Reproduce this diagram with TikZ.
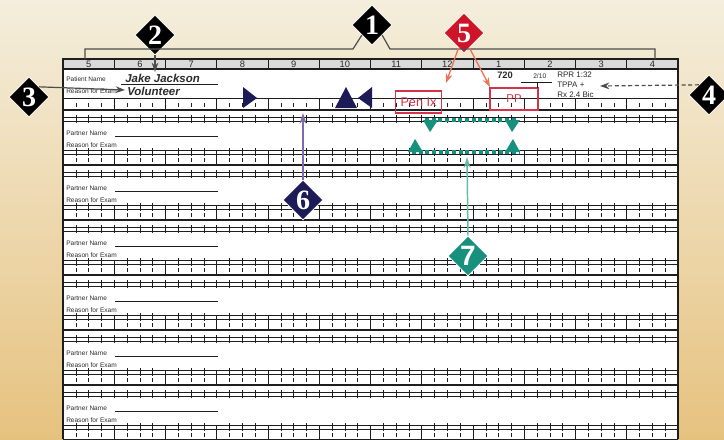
\documentclass[tikz,border=0pt]{standalone}
\usepackage{fontspec}
\setmainfont{Liberation Sans}
\newfontfamily\calloutfont{Liberation Serif}
\usetikzlibrary{arrows.meta,shapes.geometric,calc}
\definecolor{ink}{HTML}{2B2B2B}
\definecolor{rule}{HTML}{1E1E1E}
\definecolor{headgray}{HTML}{DADADA}
\definecolor{creamtop}{HTML}{F4EEDC}
\definecolor{creammid}{HTML}{EFDDB4}
\definecolor{creambot}{HTML}{E6C27F}
\definecolor{navy}{HTML}{1D1B57}
\definecolor{penred}{HTML}{D2334A}
\definecolor{calred}{HTML}{CE1429}
\definecolor{salmon}{HTML}{EB7458}
\definecolor{teal}{HTML}{17907E}
\definecolor{lteal}{HTML}{66BBA6}
\definecolor{violet}{HTML}{8268AE}
\definecolor{pointer}{HTML}{4D4D4D}
\tikzset{
  callout/.style={
    diamond, aspect=1, inner sep=0pt,
    minimum width=30pt, minimum height=30pt,
    draw=white, line width=0.5pt, text=white,
    font=\calloutfont\bfseries\fontsize{21}{21}\selectfont
  },
  lbl/.style={anchor=west, inner sep=0pt, text=ink, font=\fontsize{4.9}{6}\selectfont},
  hand/.style={anchor=west, inner sep=0pt, text=ink, font=\bfseries\itshape\fontsize{8.6}{10}\selectfont},
  note/.style={anchor=west, inner sep=0pt, text=ink, font=\fontsize{6}{7}\selectfont},
  hnum/.style={inner sep=0pt, text=ink, font=\fontsize{7}{8}\selectfont},
  penbox/.style={
    draw=penred, line width=0.8pt, text=penred, inner sep=0pt,
    minimum width=35pt, minimum height=16.5pt
  },
  pointer/.style={-{Stealth[length=7pt,width=5pt]}, draw=pointer, line width=0.9pt},
  salmonarr/.style={-{Stealth[length=7pt,width=5pt]}, draw=salmon, line width=1pt},
  thinrule/.style={draw=rule, line width=0.5pt},
  thickrule/.style={draw=rule, line width=1.1pt},
  tick/.style={draw=rule, line width=0.4pt},
  tealdots/.style={draw=teal, line width=2.4pt, dash pattern=on 3pt off 2pt}
}
\begin{document}
\begin{tikzpicture}[x=0.75pt,y=-0.75pt]
  \useasboundingbox (0,0) rectangle (724,439);
  \clip (0,0) rectangle (724,439);
  \shade[top color=creamtop, middle color=creammid, bottom color=creambot] (0,0) rectangle (724,439);

  % form sheet
  \fill[white] (63,59) rectangle (678,439);
  \filldraw[fill=headgray, draw=rule, line width=0.8pt] (63,59) rectangle (678,69);
  \foreach \h [count=\c from 0] in {5,6,7,8,9,10,11,12,1,2,3,4}{
    \draw[tick] ({63+51.25*\c},59) -- ++(0,10);
    \node[hnum] (h\c) at ({63+51.25*\c+25.6},64) {\h};
  }

  % patient row
  \draw[thinrule] (63,98) -- (678,98);
  \draw[thickrule] (63,110) -- (678,110);
  \foreach \c in {0,...,11}{
    \pgfmathsetmacro\xc{63+51.25*\c}
    \draw[tick] (\xc,98) -- ++(0,12);
    \foreach \q in {1,2,3}
      \draw[tick] (\xc+12.8125*\q,103) -- ++(0,4);
  }
  \node[lbl] (pname) at (66,79) {Patient Name};
  \node[lbl] (preason) at (66,91) {Reason for Exam};
  \node[hand] (jake) at (125,78) {Jake Jackson};
  \node[hand] (vol) at (127,91) {Volunteer};
  \draw[thinrule] (121,84) -- (218,84);

  % partner rows
  \foreach \k in {0,...,5}{
    \pgfmathsetmacro\yo{55*\k}
    \draw[thinrule] (63,117+\yo) -- (678,117+\yo) (63,121+\yo) -- (678,121+\yo);
    \draw[thinrule] (63,150+\yo) -- (678,150+\yo) (63,154+\yo) -- (678,154+\yo);
    \draw[thickrule] (63,165+\yo) -- (678,165+\yo);
    \foreach \c in {0,...,11}{
      \pgfmathsetmacro\xc{63+51.25*\c}
      \draw[tick] (\xc,115+\yo) -- ++(0,8) (\xc,150+\yo) -- ++(0,15);
      \foreach \q in {1,2,3}
        \draw[tick] (\xc+12.8125*\q,115+\yo) -- ++(0,8)
                    (\xc+12.8125*\q,148+\yo) -- ++(0,8)
                    (\xc+12.8125*\q,158+\yo) -- ++(0,4);
    }
    \node[lbl] (pn\k) at (66,133+\yo) {Partner Name};
    \node[lbl] (re\k) at (66,145+\yo) {Reason for Exam};
    \draw[thinrule] (115,136+\yo) -- (218,136+\yo);
  }
  \draw[thickrule] (63,59) -- (63,439) (678,59) -- (678,439);

  % navy markers
  \fill[navy] (243,87) -- (243,108) -- (257,98) -- cycle;
  \fill[navy] (335,108) -- (357,108) -- (346,87) -- cycle;
  \fill[navy] (372,87) -- (372,108) -- (358,98) -- cycle;

  % teal markers
  \draw[tealdots] (425,120) -- (517,120);
  \draw[tealdots] (412,152) -- (519,152);
  \fill[teal] (423,120) -- (438,120) -- (430,132) -- cycle;
  \fill[teal] (505,120) -- (520,120) -- (512,132) -- cycle;
  \fill[teal] (408,152) -- (423,152) -- (415,139) -- cycle;
  \fill[teal] (505,152) -- (520,152) -- (513,139) -- cycle;

  % chart entries
  \node[penbox, font=\fontsize{9.5}{10}\selectfont] (pen) at (418.5,102) {Pen Ix};
  \node[penbox, minimum width=36pt, font=\fontsize{8.5}{9}\selectfont] (pp) at (514,99) {PP};
  \node[anchor=west, inner sep=0pt, text=ink, font=\bfseries\fontsize{7}{8}\selectfont] (titre) at (497,75) {720};
  \node[anchor=west, inner sep=0pt, text=ink, font=\fontsize{5}{6}\selectfont] (date) at (533,76) {2/10};
  \draw[thinrule] (521,82) -- (552,82) (537,82) -- (537,88);
  \node[note] (rpr) at (557,75) {RPR 1:32};
  \node[note] (tppa) at (557,85) {TPPA +};
  \node[note] (rx) at (557,95) {Rx 2.4 Bic};

  % callouts
  \node[callout, fill=black] (d1) at (372,25) {1};
  \node[callout, fill=black] (d2) at (155,35) {2};
  \node[callout, fill=black] (d3) at (29,97) {3};
  \node[callout, fill=black] (d4) at (709,95) {4};
  \node[callout, fill=calred] (d5) at (464,33) {5};
  \node[callout, fill=navy] (d6) at (303,200) {6};
  \node[callout, fill=teal, font=\bfseries\fontsize{21}{21}\selectfont] (d7) at (468,256) {7};

  \coordinate (brL) at (85,59);
  \coordinate (brR) at (655,59);
  \coordinate (t2) at (155,72);
  \coordinate (t3) at (125,90);
  \coordinate (t4) at (600,86);
  \coordinate (t5a) at (446,83);
  \coordinate (t5b) at (490,87);
  \coordinate (t6) at (303,113);
  \coordinate (t7) at (467,157);

  \draw[draw=pointer, line width=0.9pt] (brL) -- (85,49) -- (353,49) -- (d1.south west);
  \draw[draw=pointer, line width=0.9pt] (d1.south east) -- (390,49) -- (655,49) -- (brR);
  \draw[pointer] (d2.south) -- (t2);
  \draw[pointer] (d3.north east) -- (t3);
  \draw[pointer, densely dashed] (d4.north west) -- (t4);
  \draw[salmonarr] (d5.250) -- (t5a);
  \draw[salmonarr] (d5.290) -- (t5b);
  \draw[-{Stealth[length=8pt,width=5pt]}, draw=violet, line width=1.1pt] (d6.north) -- (t6);
  \draw[-{Stealth[length=8pt,width=5pt]}, draw=lteal, line width=1.1pt] (d7.north) -- (t7);
\end{tikzpicture}
\end{document}
